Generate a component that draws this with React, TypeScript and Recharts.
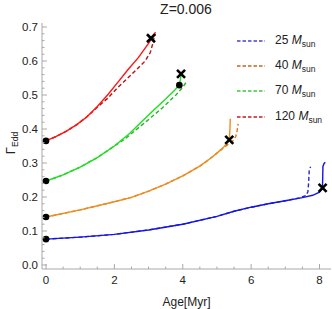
import React from "react";
import { ComposedChart, Line, Scatter, XAxis, YAxis } from "recharts";

// Eddington factor vs age, Z=0.006
const blueSolidAge = [0, 1, 2, 3, 4, 5, 5.5, 6, 6.5, 7, 7.5, 7.8, 8.0, 8.08, 8.09, 8.1, 8.13, 8.17];
const blueSolidGamma = [0.076, 0.082, 0.09, 0.103, 0.12, 0.143, 0.158, 0.17, 0.18, 0.189, 0.198, 0.205, 0.214, 0.224, 0.24, 0.29, 0.298, 0.302];
const blueDashAge = [0, 1, 2, 3, 4, 5, 5.5, 6, 6.5, 7, 7.4, 7.6, 7.66, 7.68, 7.7, 7.74];
const blueDashGamma = [0.076, 0.082, 0.09, 0.103, 0.12, 0.143, 0.158, 0.17, 0.18, 0.189, 0.197, 0.204, 0.215, 0.24, 0.28, 0.289];

const orangeSolidAge = [0, 1, 2, 2.5, 3, 3.5, 4, 4.5, 4.75, 5.0, 5.2, 5.36, 5.38, 5.39];
const orangeSolidGamma = [0.141, 0.162, 0.186, 0.199, 0.217, 0.238, 0.262, 0.291, 0.309, 0.329, 0.347, 0.366, 0.4, 0.43];
const orangeDashAge = [0, 1, 2, 2.5, 3, 3.5, 4, 4.5, 4.75, 5.0, 5.2, 5.35, 5.48, 5.55, 5.59, 5.62];
const orangeDashGamma = [0.141, 0.162, 0.186, 0.199, 0.217, 0.238, 0.262, 0.291, 0.309, 0.329, 0.345, 0.357, 0.366, 0.378, 0.395, 0.415];

const greenSolidAge = [0, 0.5, 1, 1.5, 2, 2.46, 2.84, 3.2, 3.5, 3.77, 3.9, 3.93, 3.95];
const greenSolidGamma = [0.247, 0.265, 0.288, 0.316, 0.35, 0.388, 0.426, 0.46, 0.488, 0.515, 0.53, 0.545, 0.56];
const greenDashAge = [0, 0.5, 1, 1.5, 2, 2.3, 2.6, 2.98, 3.4, 3.8, 4.0, 4.11];
const greenDashGamma = [0.247, 0.265, 0.288, 0.316, 0.35, 0.37, 0.395, 0.426, 0.462, 0.5, 0.523, 0.539];

const redSolidAge = [0, 0.3, 0.6, 0.9, 1.2, 1.5, 1.8, 2.1, 2.4, 2.7, 3.0, 3.1, 3.2];
const redSolidGamma = [0.365, 0.378, 0.394, 0.413, 0.436, 0.466, 0.5, 0.537, 0.575, 0.61, 0.652, 0.667, 0.685];
const redDashAge = [0, 0.3, 0.6, 0.9, 1.2, 1.5, 1.8, 2.1, 2.5, 2.9, 3.05, 3.12, 3.15, 3.2];
const redDashGamma = [0.365, 0.378, 0.394, 0.413, 0.436, 0.464, 0.49, 0.522, 0.56, 0.6, 0.625, 0.65, 0.665, 0.68];

const dotAge = [0, 0, 0, 0, 3.9];
const dotGamma = [0.076, 0.141, 0.247, 0.365, 0.529];
const crossAge = [8.09, 5.36, 3.95, 3.07];
const crossGamma = [0.227, 0.368, 0.562, 0.667];

const xTicks = [0, 0.5, 1, 1.5, 2, 2.5, 3, 3.5, 4, 4.5, 5, 5.5, 6, 6.5, 7, 7.5, 8];
const xMajor = [0, 2, 4, 6, 8];
const yTicks = [0, 0.02, 0.04, 0.06, 0.08, 0.1, 0.12, 0.14, 0.16, 0.18, 0.2, 0.22, 0.24, 0.26, 0.28, 0.3, 0.32, 0.34, 0.36, 0.38, 0.4, 0.42, 0.44, 0.46, 0.48, 0.5, 0.52, 0.54, 0.56, 0.58, 0.6, 0.62, 0.64, 0.66, 0.68, 0.7];
const yMajor = [0, 0.1, 0.2, 0.3, 0.4, 0.5, 0.6, 0.7];

const masses = ["25", "40", "70", "120"];

const zip = (xs: number[], ys: number[]) => xs.map((x, i) => ({ x, y: ys[i] }));

const series = [
  { mass: "25", solid: zip(blueSolidAge, blueSolidGamma), dash: zip(blueDashAge, blueDashGamma), solidColor: "#1414e6", dashColor: "#2a2ac4", legendColor: "#4444cc" },
  { mass: "40", solid: zip(orangeSolidAge, orangeSolidGamma), dash: zip(orangeDashAge, orangeDashGamma), solidColor: "#f08c1e", dashColor: "#d4781c", legendColor: "#c8641e" },
  { mass: "70", solid: zip(greenSolidAge, greenSolidGamma), dash: zip(greenDashAge, greenDashGamma), solidColor: "#1ee01e", dashColor: "#22b822", legendColor: "#3cc83c" },
  { mass: "120", solid: zip(redSolidAge, redSolidGamma), dash: zip(redDashAge, redDashGamma), solidColor: "#ff1414", dashColor: "#b41414", legendColor: "#c81e1e" },
];

const frame = "#a8a8a8";
const font = "'Liberation Sans', Arial, sans-serif";
const near = (v: number, list: number[]) => list.some((m) => Math.abs(m - v) < 1e-6);

const BottomTick = (p: any) => {
  const major = near(p.payload.value, xMajor);
  return (
    <g>
      <line x1={p.x} x2={p.x} y1={p.y} y2={p.y - (major ? 5 : 2.5)} stroke={frame} />
      {major && (
        <text x={p.x} y={p.y + 15} textAnchor="middle" fontSize={11.5} fill="#222" fontFamily={font}>
          {p.payload.value}
        </text>
      )}
    </g>
  );
};
const TopTick = (p: any) => {
  const major = near(p.payload.value, xMajor);
  return <line x1={p.x} x2={p.x} y1={p.y} y2={p.y + (major ? 5 : 2.5)} stroke={frame} />;
};
const LeftTick = (p: any) => {
  const major = near(p.payload.value, yMajor);
  return (
    <g>
      <line x1={p.x} x2={p.x + (major ? 5 : 2.5)} y1={p.y} y2={p.y} stroke={frame} />
      {major && (
        <text x={p.x - 4} y={p.y + 4} textAnchor="end" fontSize={11.5} fill="#222" fontFamily={font}>
          {p.payload.value.toFixed(1)}
        </text>
      )}
    </g>
  );
};
const RightTick = (p: any) => {
  const major = near(p.payload.value, yMajor);
  return <line x1={p.x} x2={p.x - (major ? 5 : 2.5)} y1={p.y} y2={p.y} stroke={frame} />;
};

const Dot = (p: any) => <circle cx={p.cx} cy={p.cy} r={3.3} fill="#000" />;
const Cross = (p: any) => (
  <path
    d={`M${p.cx - 4},${p.cy - 4}L${p.cx + 4},${p.cy + 4}M${p.cx - 4},${p.cy + 4}L${p.cx + 4},${p.cy - 4}`}
    stroke="#000"
    strokeWidth={2.6}
  />
);

const xDomain = [-0.117, 8.336];
const yDomain = [-0.0118, 0.7118];

export default function App() {
  return (
    <div style={{ position: "absolute", left: 0, top: 0, width: 332, height: 309, background: "#fff", fontFamily: font }}>
      <div style={{ position: "absolute", left: 0, width: 372, top: 1, textAlign: "center", fontSize: 14, color: "#222" }}>Z=0.006</div>
      <ComposedChart width={332} height={309} margin={{ top: 23, right: 1, bottom: 0, left: 0 }}>
        <XAxis dataKey="x" type="number" domain={xDomain} ticks={xTicks} interval={0} height={40} tickSize={0} tickMargin={0} tick={BottomTick} stroke={frame} allowDataOverflow
          label={{
            content: (lp: any) => {
              const vb = lp.viewBox;
              return (
                <text x={vb.x + vb.width / 2} y={vb.y + 37} textAnchor="middle" fill="#222" fontFamily={font} fontSize={12}>
                  Age[Myr]
                </text>
              );
            },
          }} />
        <XAxis xAxisId="top" orientation="top" dataKey="x" type="number" domain={xDomain} ticks={xTicks} interval={0} height={0} tickSize={0} tickMargin={0} tick={TopTick} stroke={frame} allowDataOverflow />
        <YAxis dataKey="y" type="number" domain={yDomain} ticks={yTicks} interval={0} width={42} tickSize={0} tickMargin={0} tick={LeftTick} stroke={frame} allowDataOverflow
          label={{
            content: (lp: any) => {
              const vb = lp.viewBox;
              const cx = vb.x + 15;
              const cy = vb.y + vb.height / 2 - 3;
              return (
                <text transform={`rotate(-90 ${cx} ${cy})`} x={cx} y={cy} textAnchor="middle" fill="#222" fontFamily={font} fontSize={13}>
                  Γ<tspan fontSize={8.5} dy={3}>Edd</tspan>
                </text>
              );
            },
          }} />
        <YAxis yAxisId="right" orientation="right" dataKey="y" type="number" domain={yDomain} ticks={yTicks} interval={0} width={0} tickSize={0} tickMargin={0} tick={RightTick} stroke={frame} allowDataOverflow />
        {series.map((s) => (
          <Line key={"d" + s.mass} data={s.dash} dataKey="y" type="linear" stroke={s.dashColor} strokeWidth={1.4} strokeDasharray="4 2.5" dot={false} isAnimationActive={false} />
        ))}
        {series.map((s) => (
          <Line key={"s" + s.mass} data={s.solid} dataKey="y" type="linear" stroke={s.solidColor} strokeWidth={1.4} dot={false} isAnimationActive={false} />
        ))}
        <Scatter data={zip(dotAge, dotGamma)} dataKey="y" shape={Dot} isAnimationActive={false} />
        <Scatter data={zip(crossAge, crossGamma)} dataKey="y" shape={Cross} isAnimationActive={false} />
      </ComposedChart>
      <div style={{ position: "absolute", left: 236, top: 28, fontSize: 12, color: "#222" }}>
        {series.map((s, i) => (
          <div key={s.mass} style={{ display: "flex", alignItems: "center", height: 25.3 }}>
            <svg width={30} height={6} style={{ marginRight: 9 }}>
              <line x1={1} x2={29} y1={3} y2={3} stroke={s.legendColor} strokeWidth={1.4} strokeDasharray="3.5 2" />
            </svg>
            <span>
              {masses[i]} <i>M</i>
              <sub style={{ fontSize: 8.5, verticalAlign: "-3px" }}>sun</sub>
            </span>
          </div>
        ))}
      </div>
    </div>
  );
}
